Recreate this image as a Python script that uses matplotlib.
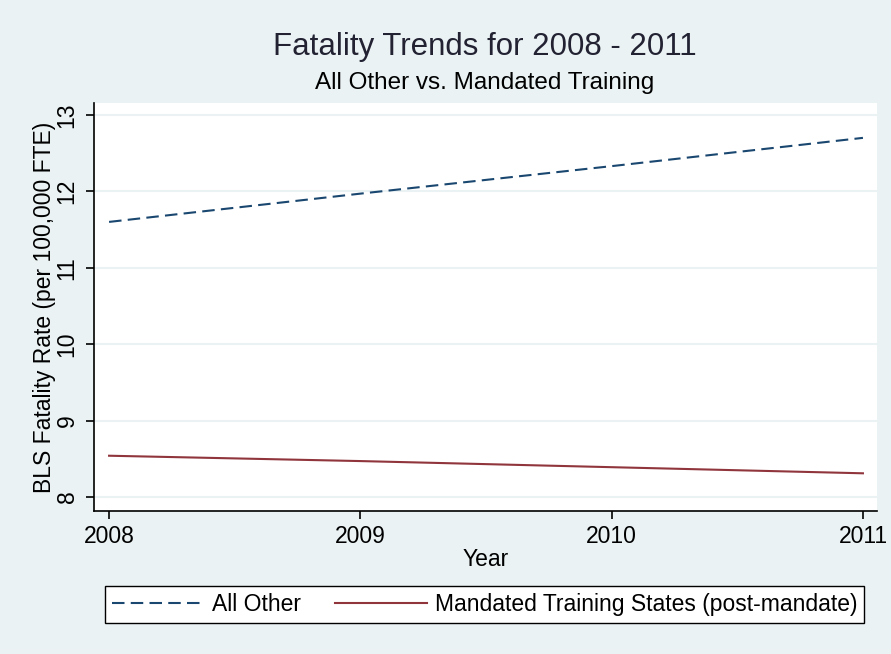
import matplotlib
matplotlib.use("Agg")
import matplotlib.pyplot as plt

years = [2008, 2009, 2010, 2011]
all_other = [11.60, 11.97, 12.33, 12.70]
mandated = [8.54, 8.47, 8.39, 8.31]
y_ticks = [8, 9, 10, 11, 12, 13]

bg = "#eaf2f3"
navy = "#1a476f"
maroon = "#90353b"

plt.rcParams["font.family"] = ["Liberation Sans", "DejaVu Sans"]

fig = plt.figure(figsize=(8.91, 6.54), dpi=100, facecolor=bg)
ax = fig.add_axes([0.1055, 0.2187, 0.8788, 0.6239])
ax.set_facecolor("white")

ax.plot(years, all_other, color=navy, lw=1.5, dashes=(6, 3), label="All Other")
ax.plot(years, mandated, color=maroon, lw=1.5, label="Mandated Training States (post-mandate)")

ax.set_xlim(2007.94, 2011.056)
ax.set_ylim(7.817, 13.157)
ax.set_xticks(years)
ax.set_yticks(y_ticks)
ax.set_yticklabels([str(t) for t in y_ticks], rotation=90, va="center")
ax.grid(axis="y", color=bg, lw=1.5)
ax.set_axisbelow(True)

for side in ("top", "right"):
    ax.spines[side].set_visible(False)
for side in ("left", "bottom"):
    ax.spines[side].set_linewidth(1.2)
ax.tick_params(labelsize=16.5, length=6, width=1.2, direction="out")
ax.tick_params(axis="x", pad=4)
ax.tick_params(axis="y", pad=5)

ax.set_xlabel("Year", fontsize=16.5, labelpad=0)
ax.set_ylabel("BLS Fatality Rate (per 100,000 FTE)", fontsize=16.5, labelpad=0)

fig.text(0.544, 0.928, "Fatality Trends for 2008 - 2011", ha="center", va="center",
         fontsize=22.5, color="#222233")
fig.text(0.544, 0.873, "All Other vs. Mandated Training", ha="center", va="center",
         fontsize=17.5)

leg = fig.legend(loc="center", bbox_to_anchor=(0.544, 0.076), ncol=2, fontsize=16.5,
                 frameon=True, fancybox=False, edgecolor="black", framealpha=1,
                 handlelength=4.0, handletextpad=0.35, columnspacing=1.5,
                 borderpad=0.3)
leg.get_frame().set_linewidth(1.0)

fig.savefig("out.png", dpi=100, facecolor=bg)
